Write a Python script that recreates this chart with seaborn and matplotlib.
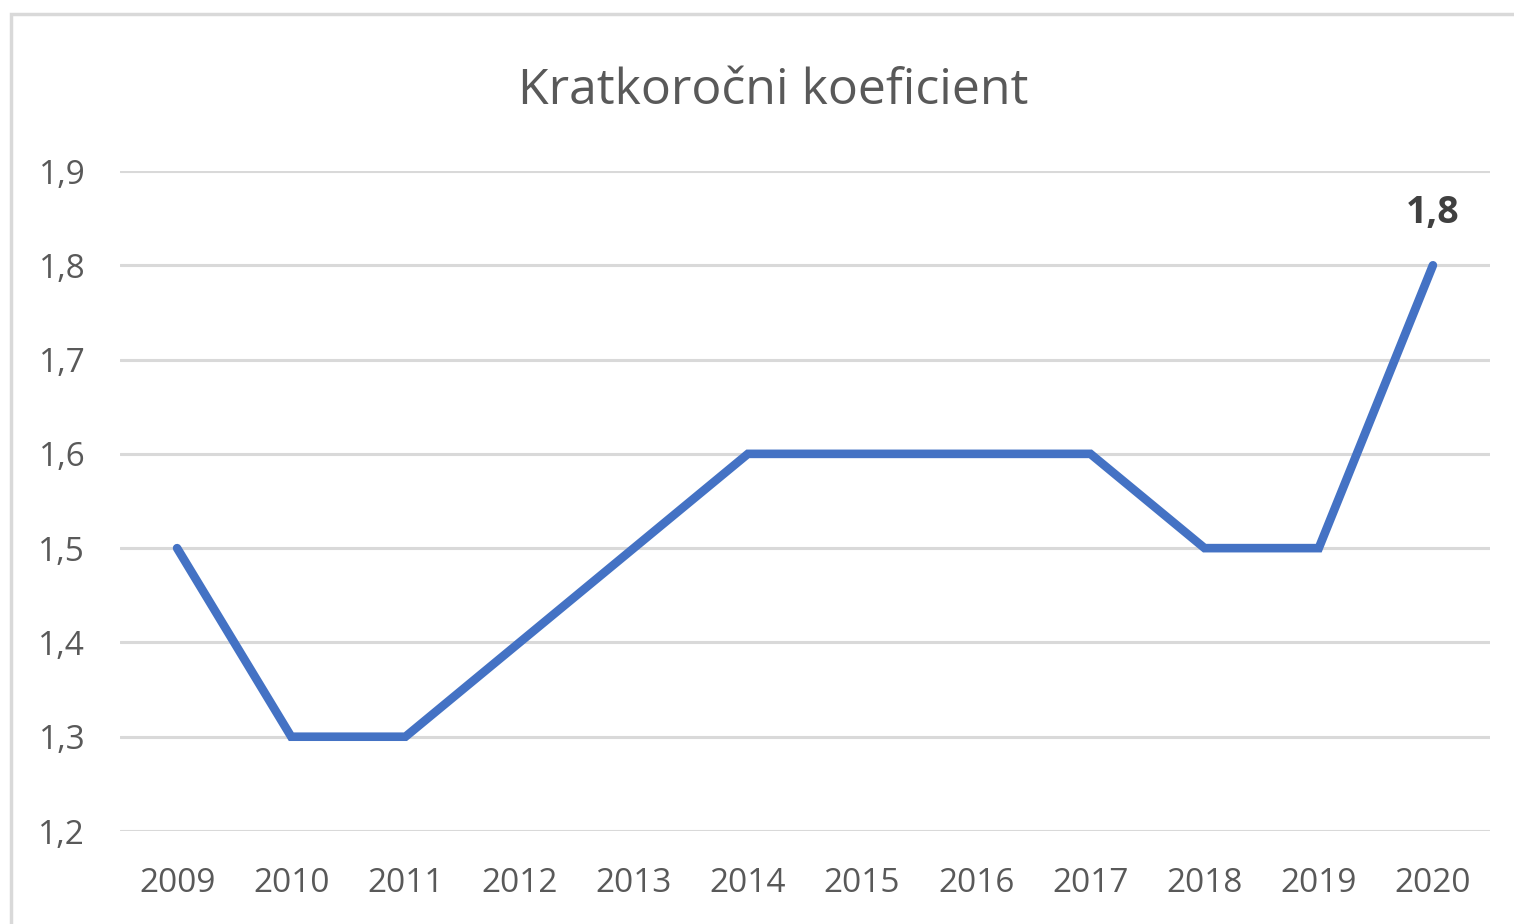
import matplotlib
matplotlib.use("Agg")
import matplotlib.pyplot as plt
import matplotlib.ticker as mticker
import seaborn as sns
import pandas as pd
from matplotlib.patches import Rectangle

years = [2009, 2010, 2011, 2012, 2013, 2014, 2015, 2016, 2017, 2018, 2019, 2020]
values = [1.5, 1.3, 1.3, 1.4, 1.5, 1.6, 1.6, 1.6, 1.6, 1.5, 1.5, 1.8]
yticks = [1.2, 1.3, 1.4, 1.5, 1.6, 1.7, 1.8, 1.9]
title = "Kratkoročni koeficient"

sns.set_theme(style="white")
plt.rcParams['font.family'] = ['Open Sans', 'DejaVu Sans']

df = pd.DataFrame({"year": years, "value": values})

fig = plt.figure(figsize=(15.14, 9.24), dpi=100)
ax = fig.add_axes([120/1514, 1-831/924, (1490-120)/1514, (831-171)/924])

# outer border (light gray, left and top visible)
fig.patches.append(Rectangle((11/1514, -0.05), 1.2, 1-14/924+0.05,
                             transform=fig.transFigure, fill=False,
                             edgecolor="#d9d9d9", linewidth=2.5, zorder=0))

sns.lineplot(data=df, x="year", y="value", ax=ax, color="#4472C4",
             linewidth=6.2, solid_capstyle="round", solid_joinstyle="miter",
             zorder=3)

ax.set_xlim(years[0]-0.5, years[-1]+0.5)
ax.set_ylim(yticks[0], yticks[-1])
ax.set_yticks(yticks)
ax.set_xticks(years)
ax.yaxis.set_major_formatter(mticker.FuncFormatter(lambda v, p: f"{v:.1f}".replace(".", ",")))
ax.grid(axis="y", color="#d9d9d9", linewidth=2.2)
ax.grid(axis="x", visible=False)
for s in ax.spines.values():
    s.set_visible(False)
ax.tick_params(axis="both", length=0, labelsize=24, colors="#595959")
ax.tick_params(axis="y", pad=25)
ax.tick_params(axis="x", pad=26)
ax.set_xlabel("")
ax.set_ylabel("")

ax.annotate(f"{values[-1]:.1f}".replace(".", ","), xy=(years[-1], values[-1]),
            xytext=(0, 38), textcoords="offset points", ha="center", va="center",
            fontsize=27, fontweight="bold", color="#404040")

fig.text(773/1514, 1-91/924, title, ha="center", va="center", fontsize=36, color="#595959")

fig.savefig("out.png", dpi=100, facecolor="white")
